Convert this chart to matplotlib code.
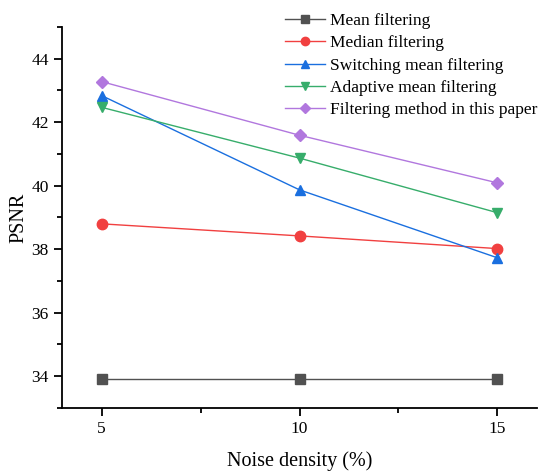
import matplotlib
matplotlib.use("Agg")
import matplotlib.pyplot as plt
from matplotlib.ticker import MultipleLocator

plt.rcParams['font.family'] = ['Liberation Serif', 'DejaVu Serif']

# noise density (%)
densidad = [5, 10, 15]

media = [33.9, 33.9, 33.9]
mediana = [38.8, 38.42, 38.02]
conmutacion = [42.84, 39.87, 37.73]
adaptativo = [42.47, 40.87, 39.15]
propuesto = [43.28, 41.59, 40.09]

series = [
    ("Mean filtering", media, "#515151", "s"),
    ("Median filtering", mediana, "#F14040", "o"),
    ("Switching mean filtering", conmutacion, "#1A6FDF", "^"),
    ("Adaptive mean filtering", adaptativo, "#37AD6B", "v"),
    ("Filtering method in this paper", propuesto, "#B177DE", "D"),
]

fig = plt.figure(figsize=(5.38, 4.71), dpi=100)
ax = fig.add_axes([0.1152, 0.1338, 0.8830, 0.8089])

for nombre, valores, color, marcador in series:
    ms = 6.5 if marcador == "D" else 7.5
    ax.plot(densidad, valores, color=color, marker=marcador, markersize=ms,
            linewidth=1.0, label=nombre)

ax.set_xlim(4, 16)
ax.set_ylim(33, 45)
ax.set_xticks(densidad)
ax.xaxis.set_minor_locator(MultipleLocator(2.5))
ax.yaxis.set_major_locator(MultipleLocator(2))
ax.yaxis.set_minor_locator(MultipleLocator(1))

for lado in ["top", "right"]:
    ax.spines[lado].set_visible(False)
for lado in ["left", "bottom"]:
    ax.spines[lado].set_linewidth(1.3)

ax.tick_params(which="major", direction="out", length=6, width=1.3, labelsize=12.5)
ax.tick_params(which="minor", direction="out", length=3.5, width=1.3)

ax.set_xlabel("Noise density (%)", fontsize=14.5, labelpad=10)
ax.set_ylabel("PSNR", fontsize=14.5, labelpad=2)

fig.legend(loc="upper left", bbox_to_anchor=(276 / 538, 1 - 4 / 471),
           frameon=False, fontsize=12.5, handlelength=2.3, borderpad=0,
           labelspacing=0.36, handletextpad=0.3, markerscale=0.8)

fig.savefig("out.png", dpi=100)
